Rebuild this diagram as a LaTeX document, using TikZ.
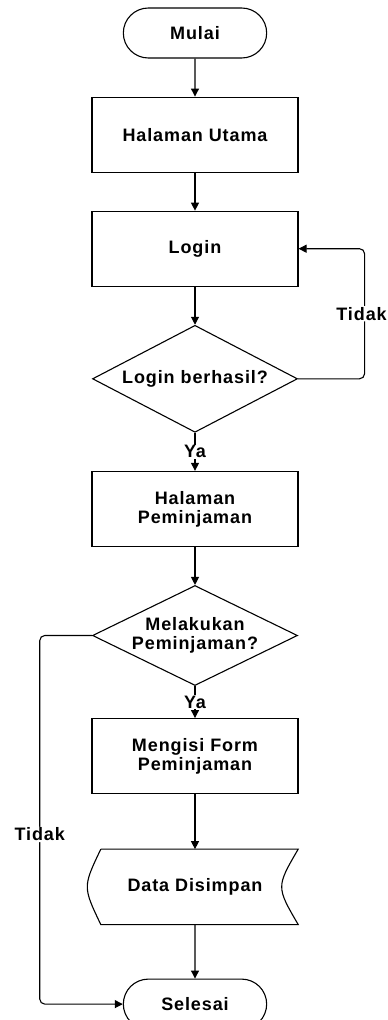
\documentclass[tikz,border=0pt]{standalone}
\usepackage{fontspec}
\setmainfont{Liberation Sans}[LetterSpace=5]
\usepackage{tikz}
\usetikzlibrary{arrows.meta,positioning,shapes.geometric,shapes.misc}
\newcommand{\flowfont}{\bfseries\fontsize{18}{19}\selectfont}
\tikzset{
  term/.style={draw, rounded rectangle, minimum width=150pt, minimum height=50pt,
               line width=1.1pt, font=\flowfont},
  proc/.style={draw, rectangle, align=center, minimum width=206pt, minimum height=75pt,
               line width=1.1pt, font=\flowfont},
  dec/.style={draw, diamond, aspect=2, align=center, minimum width=205pt, minimum height=107pt,
              inner sep=0pt, line width=1.1pt, font=\flowfont},
  store/.style={rectangle, minimum width=206pt, minimum height=75pt, font=\flowfont},
  lbl/.style={fill=white, inner sep=1pt, font=\flowfont},
  flowarrow/.style={-{Triangle[length=8pt,width=8pt]}, line width=1.1pt}
}

\begin{document}
\begin{tikzpicture}[node distance=38pt, x=1pt, y=1pt]
\useasboundingbox (0,0) rectangle (388,-1020);
\node[term] (mulai) at (195,-33) {Mulai};
\node[proc, below=of mulai] (utama) {Halaman Utama};
\node[proc, below=of utama] (login) {Login};
\node[dec, below=of login] (cek) {Login berhasil?};
\node[proc, below=of cek] (pinjam) {Halaman\\Peminjaman};
\node[dec, minimum height=100pt, below=of pinjam] (tanya) {Melakukan\\Peminjaman?};
\node[proc, below=32pt of tanya] (form) {Mengisi Form\\Peminjaman};
\node[store, below=55pt of form] (simpan) {Data Disimpan};
\node[term, below=54pt of simpan] (selesai) {Selesai};
% bentuk data tersimpan
\draw[line width=1.1pt] ([xshift=9pt]simpan.north west) -- (simpan.north east)
  .. controls ([xshift=-22pt]simpan.east) .. (simpan.south east)
  -- ([xshift=9pt]simpan.south west)
  .. controls ([xshift=-9pt]simpan.west) .. ([xshift=9pt]simpan.north west);
\draw[flowarrow] (mulai) -- (utama);
\draw[flowarrow] (utama) -- (login);
\draw[flowarrow] (login) -- (cek);
\draw[flowarrow] (cek) -- node[lbl] {Ya} (pinjam);
\draw[flowarrow] (pinjam) -- (tanya);
\draw[flowarrow] (tanya) -- node[lbl] {Ya} (form);
\draw[flowarrow] (form) -- (simpan);
\draw[flowarrow] (simpan) -- (selesai);
\draw[flowarrow, rounded corners=5pt] (cek.east) -| node[lbl, pos=0.75, xshift=-3pt] {Tidak}
  ([xshift=66pt]login.east) -- (login.east);
\draw[flowarrow, rounded corners=5pt] (tanya.west) -| node[lbl, pos=0.77] {Tidak}
  ([xshift=-83pt]selesai.west) -- (selesai.west);
\end{tikzpicture}
\end{document}
